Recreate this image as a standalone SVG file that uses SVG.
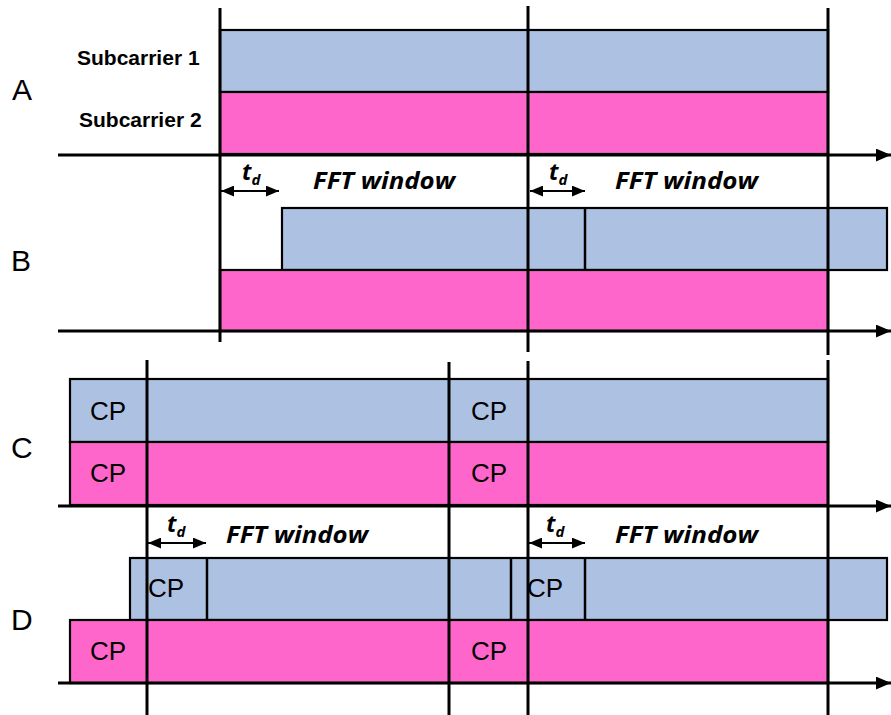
<svg xmlns="http://www.w3.org/2000/svg" width="891" height="715" viewBox="0 0 891 715">
  <style>
    .blue { fill: #ADC2E2; stroke: #000; stroke-width: 2.2; }
    .pink { fill: #FF66CC; stroke: #000; stroke-width: 2.2; }
    .div { stroke: #000; stroke-width: 2.5; fill: none; }
    .mark { stroke: #000; stroke-width: 3; fill: none; }
    .axis { stroke: #000; stroke-width: 3; fill: none; marker-end: url(#axisHead); }
    .span { stroke: #000; stroke-width: 2; fill: none; marker-start: url(#spanHead); marker-end: url(#spanHead); }
    .row { font-family: "Liberation Sans", Arial, sans-serif; font-size: 30px; fill: #000; }
    .sub { font-family: "Liberation Sans", Arial, sans-serif; font-size: 21px; font-weight: bold; fill: #000; }
    .cp { font-family: "Liberation Sans", Arial, sans-serif; font-size: 26px; fill: #000; }
    .fft { font-family: "Open Sans", "DejaVu Sans", sans-serif; font-size: 24px; font-weight: bold; font-style: italic; fill: #000; }
    .td { font-family: "Open Sans", "DejaVu Sans", sans-serif; font-size: 23px; font-weight: bold; font-style: italic; fill: #000; }
    .tdsub { font-size: 15px; }
  </style>
  <defs>
    <marker id="axisHead" viewBox="0 0 14 12" refX="14" refY="6" markerWidth="15" markerHeight="13" markerUnits="userSpaceOnUse" orient="auto">
      <path d="M0,0 L14,6 L0,12 Z" fill="#000"/>
    </marker>
    <marker id="spanHead" viewBox="0 0 12 10" refX="12" refY="5" markerWidth="13" markerHeight="11" markerUnits="userSpaceOnUse" orient="auto-start-reverse">
      <path d="M0,0 L12,5 L0,10 Z" fill="#000"/>
    </marker>
  </defs>

  <!-- Row A: aligned subcarriers -->
  <g id="rowA">
    <rect class="blue" x="220" y="30" width="608" height="62"/>
    <rect class="pink" x="220" y="92" width="608" height="62"/>
    <text class="row" x="12" y="100">A</text>
    <text class="sub" x="77" y="65">Subcarrier 1</text>
    <text class="sub" x="79" y="127">Subcarrier 2</text>
  </g>

  <!-- Row B: delayed subcarrier 1, no cyclic prefix -->
  <g id="rowB">
    <rect class="blue" x="282" y="208" width="605" height="62"/>
    <line class="div" x1="585" y1="208" x2="585" y2="270"/>
    <rect class="pink" x="220" y="270" width="608" height="61"/>
    <text class="row" x="11" y="271">B</text>
    <text class="td" x="242" y="180">t<tspan class="tdsub" dy="5">d</tspan></text>
    <text class="fft" x="313" y="189" textLength="142" lengthAdjust="spacingAndGlyphs">FFT window</text>
    <text class="td" x="549" y="180">t<tspan class="tdsub" dy="5">d</tspan></text>
    <text class="fft" x="615" y="189" textLength="143" lengthAdjust="spacingAndGlyphs">FFT window</text>
  </g>

  <!-- Row C: symbols with cyclic prefix -->
  <g id="rowC">
    <rect class="blue" x="70" y="379" width="758" height="63"/>
    <rect class="pink" x="70" y="442" width="758" height="63"/>
    <text class="row" x="11" y="458">C</text>
    <text class="cp" x="108" y="420" text-anchor="middle">CP</text>
    <text class="cp" x="108" y="482" text-anchor="middle">CP</text>
    <text class="cp" x="489" y="420" text-anchor="middle">CP</text>
    <text class="cp" x="489" y="482" text-anchor="middle">CP</text>
  </g>

  <!-- Row D: delayed subcarrier 1 with cyclic prefix -->
  <g id="rowD">
    <rect class="blue" x="130" y="558" width="757" height="62"/>
    <line class="div" x1="207" y1="558" x2="207" y2="620"/>
    <line class="div" x1="511" y1="558" x2="511" y2="622"/>
    <line class="div" x1="585" y1="558" x2="585" y2="620"/>
    <rect class="pink" x="70" y="620" width="758" height="63"/>
    <text class="row" x="11" y="630">D</text>
    <text class="cp" x="148" y="597">CP</text>
    <text class="cp" x="527" y="597">CP</text>
    <text class="cp" x="108" y="660" text-anchor="middle">CP</text>
    <text class="cp" x="489" y="660" text-anchor="middle">CP</text>
    <text class="td" x="167" y="532">t<tspan class="tdsub" dy="5">d</tspan></text>
    <text class="fft" x="226" y="543" textLength="142" lengthAdjust="spacingAndGlyphs">FFT window</text>
    <text class="td" x="546" y="532">t<tspan class="tdsub" dy="5">d</tspan></text>
    <text class="fft" x="615" y="543" textLength="143" lengthAdjust="spacingAndGlyphs">FFT window</text>
  </g>

  <!-- Time axes, symbol boundaries and delay spans -->
  <g id="connectors">
    <line class="axis" x1="58" y1="155" x2="891" y2="155"/>
    <line class="axis" x1="58" y1="331" x2="891" y2="331"/>
    <line class="axis" x1="58" y1="506" x2="891" y2="506"/>
    <line class="axis" x1="58" y1="683" x2="891" y2="683"/>

    <line class="mark" x1="220" y1="8" x2="220" y2="342"/>
    <line class="mark" x1="528" y1="6" x2="528" y2="352"/>
    <line class="mark" x1="828" y1="8" x2="828" y2="355"/>

    <line class="mark" x1="147" y1="360" x2="147" y2="715"/>
    <line class="mark" x1="449" y1="362" x2="449" y2="715"/>
    <line class="mark" x1="528" y1="361" x2="528" y2="715"/>
    <line class="mark" x1="828" y1="360" x2="828" y2="715"/>

    <line class="span" x1="221" y1="191" x2="279" y2="191"/>
    <line class="span" x1="530" y1="191" x2="585" y2="191"/>
    <line class="span" x1="148" y1="543" x2="206" y2="543"/>
    <line class="span" x1="529" y1="543" x2="585" y2="543"/>
  </g>
</svg>
